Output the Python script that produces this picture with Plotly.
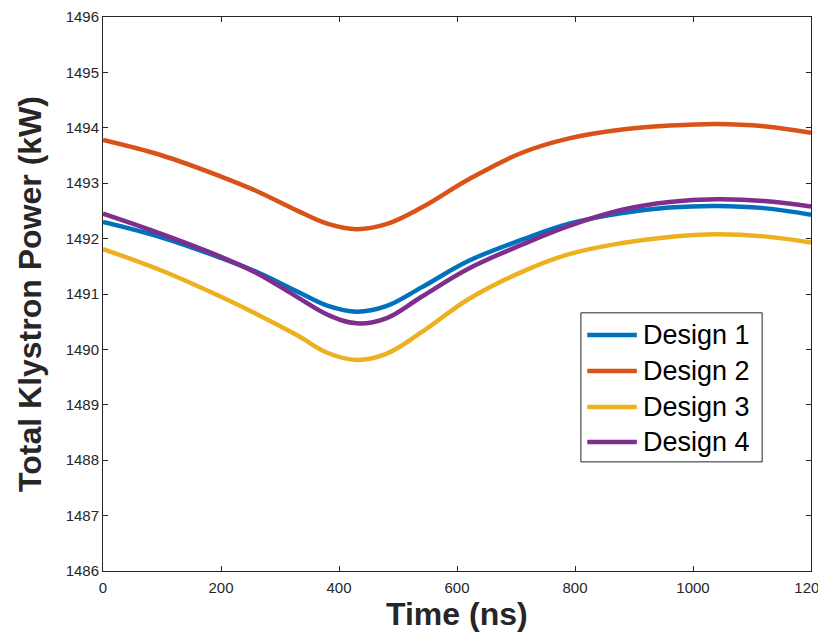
import plotly.graph_objects as go

time_ns = [0, 100, 200, 260, 330, 380, 430, 480, 540, 620, 710, 790, 880, 960, 1040, 1120, 1200]

design1 = [1492.30, 1492.02, 1491.65, 1491.40, 1491.04, 1490.79, 1490.68, 1490.78, 1491.12,
           1491.60, 1491.98, 1492.27, 1492.46, 1492.56, 1492.59, 1492.55, 1492.43]
design2 = [1493.78, 1493.50, 1493.12, 1492.86, 1492.50, 1492.27, 1492.17, 1492.26, 1492.56,
           1493.07, 1493.55, 1493.81, 1493.97, 1494.04, 1494.07, 1494.03, 1493.91]
design3 = [1491.81, 1491.42, 1490.95, 1490.64, 1490.25, 1489.94, 1489.81, 1489.92, 1490.31,
           1490.91, 1491.40, 1491.72, 1491.92, 1492.03, 1492.08, 1492.04, 1491.93]
design4 = [1492.45, 1492.08, 1491.67, 1491.38, 1490.94, 1490.63, 1490.47, 1490.56, 1490.95,
           1491.46, 1491.89, 1492.23, 1492.52, 1492.66, 1492.71, 1492.68, 1492.58]

series_names = ["Design 1", "Design 2", "Design 3", "Design 4"]
series_values = [design1, design2, design3, design4]
colors = ["#0072BD", "#D95319", "#EDB120", "#7E2F8E"]

x_ticks = [0, 200, 400, 600, 800, 1000, 1200]
y_ticks = list(range(1486, 1497))

FONT = "Liberation Sans, Arial, Helvetica, sans-serif"
AX = "#262626"

fig = go.Figure()
for name, vals, c in zip(series_names, series_values, colors):
    fig.add_trace(go.Scatter(
        x=time_ns, y=vals, name=name, mode="lines",
        line=dict(color=c, width=4.5, shape="spline", smoothing=1.1),
        showlegend=False,
    ))

# Custom MATLAB-style legend box (paper coordinates)
leg_x0, leg_x1 = 0.675, 0.931
leg_y0, leg_y1 = 0.197, 0.466
line_x0, line_x1 = 0.684, 0.754
text_x = 0.760
row_y = [0.426, 0.361, 0.296, 0.233]

shapes = [dict(type="rect", xref="paper", yref="paper", x0=leg_x0, x1=leg_x1, y0=leg_y0, y1=leg_y1,
               line=dict(color=AX, width=1), fillcolor="white", layer="above")]
annotations = []
for name, c, ry in zip(series_names, colors, row_y):
    shapes.append(dict(type="line", xref="paper", yref="paper", x0=line_x0, x1=line_x1, y0=ry, y1=ry,
                       line=dict(color=c, width=4.5), layer="above"))
    annotations.append(dict(xref="paper", yref="paper", x=text_x, y=ry, text=name, showarrow=False,
                            xanchor="left", yanchor="middle",
                            font=dict(family=FONT, size=27, color="black")))

# x-axis title placed as an annotation for exact vertical position
annotations.append(dict(xref="paper", yref="paper", x=0.5, y=-0.077, text="<b>Time (ns)</b>",
                        showarrow=False, xanchor="center", yanchor="middle",
                        font=dict(family=FONT, size=32, color=AX)))

axis_common = dict(
    showgrid=False, zeroline=False, showline=True, linecolor=AX, linewidth=1,
    mirror="ticks", ticks="inside", ticklen=5, tickcolor=AX, tickwidth=1,
    tickfont=dict(family=FONT, size=15, color=AX),
    automargin=False, ticklabeloverflow="allow",
)

fig.update_xaxes(
    range=[0, 1200], tickvals=x_ticks, ticktext=[str(v) for v in x_ticks],
    ticklabelstandoff=3,
    **axis_common,
)
fig.update_yaxes(
    range=[1486, 1496], tickvals=y_ticks, ticktext=[str(v) for v in y_ticks],
    title=dict(text="Total Klystron Power (kW)", font=dict(family=FONT, size=32, color=AX, weight="bold"), standoff=14),
    **axis_common,
)

fig.update_layout(
    width=810, height=624,
    margin=dict(l=95, r=7, t=9, b=61),
    paper_bgcolor="white", plot_bgcolor="white",
    font=dict(family=FONT, color=AX),
    showlegend=False,
    shapes=shapes,
    annotations=annotations,
)

fig.write_html("out.html")
